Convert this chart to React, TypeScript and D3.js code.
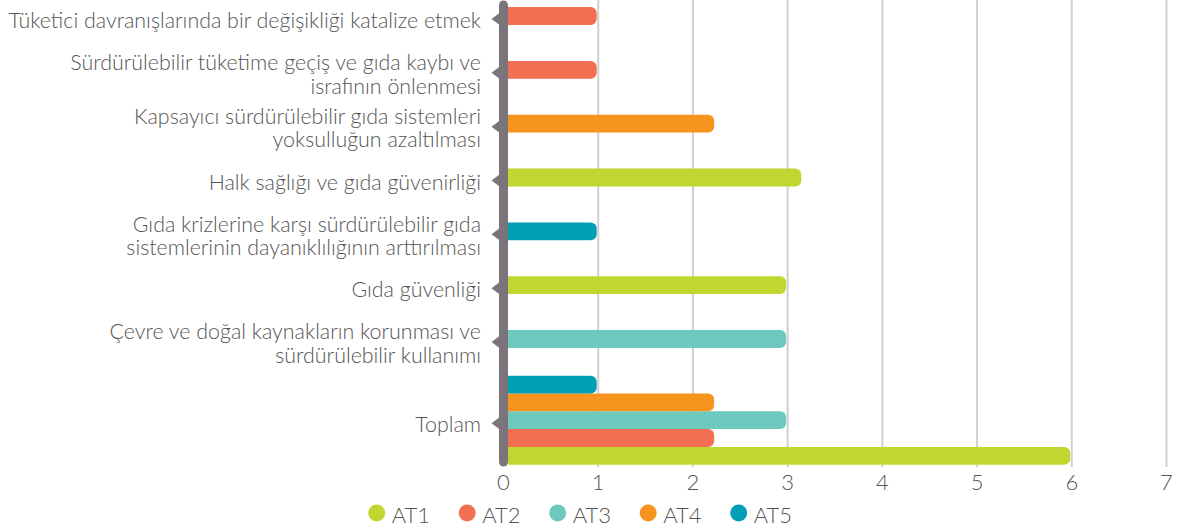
import React from "react";
import * as d3 from "d3";

const categories = [
  "Tüketici davranışlarında bir değişikliği katalize etmek",
  "Sürdürülebilir tüketime geçiş ve gıda kaybı ve|israfının önlenmesi",
  "Kapsayıcı sürdürülebilir gıda sistemleri|yoksulluğun azaltılması",
  "Halk sağlığı ve gıda güvenirliği",
  "Gıda krizlerine karşı sürdürülebilir gıda|sistemlerinin dayanıklılığının arttırılması",
  "Gıda güvenliği",
  "Çevre ve doğal kaynakların korunması ve|sürdürülebilir kullanımı",
  "Toplam",
];
const seriesNames = ["AT1", "AT2", "AT3", "AT4", "AT5"];
const seriesColors = ["#c0d631", "#f36f53", "#6dc9be", "#f7941e", "#009fb5"];
const AT1 = [0, 0, 0, 3.16, 0, 3, 0, 6];
const AT2 = [1, 1, 0, 0, 0, 0, 0, 2.24];
const AT3 = [0, 0, 0, 0, 0, 0, 3, 3];
const AT4 = [0, 0, 2.24, 0, 0, 0, 0, 2.24];
const AT5 = [0, 0, 0, 0, 1, 0, 0, 1];
const seriesValues = [AT1, AT2, AT3, AT4, AT5];
const xTicks = [0, 1, 2, 3, 4, 5, 6, 7];

const W = 1178;
const H = 532;
const FONT = "Lato, 'Open Sans', sans-serif";
const TEXT = "#555555";
const AXIS = "#7b747b";

function barPath(x0: number, x1: number, y: number, h: number, r: number) {
  const rr = Math.min(r, (x1 - x0) / 2, h / 2);
  return `M${x0},${y}H${x1 - rr}A${rr},${rr} 0 0 1 ${x1},${y + rr}V${y + h - rr}A${rr},${rr} 0 0 1 ${x1 - rr},${y + h}H${x0}Z`;
}

export default function App() {
  React.useEffect(() => {
    document.body.style.margin = "0";
  }, []);

  const x = d3.scaleLinear().domain([0, 7]).range([503.5, 1166.5]);
  const single = categories.slice(0, 7);
  const yMain = d3.scaleBand<string>().domain(single).range([-10.9, 365.9]).padding(0);
  const yTot = d3
    .scaleBand<string>()
    .domain(seriesNames.slice().reverse())
    .range([375.7, 464.7])
    .padding(0);
  const barH = yTot.bandwidth();

  const bars: { key: string; x0: number; x1: number; y: number; color: string }[] = [];
  const labelCenters: number[] = [];
  categories.forEach((c, ci) => {
    if (ci < 7) {
      const cy = (yMain(c) as number) + yMain.bandwidth() / 2;
      labelCenters.push(cy);
      seriesValues.forEach((vals, si) => {
        if (vals[ci] > 0) {
          bars.push({
            key: `${ci}-${si}`,
            x0: x(0) + 4.5,
            x1: x(vals[ci]) - 1.5,
            y: cy - barH / 2,
            color: seriesColors[si],
          });
        }
      });
    } else {
      const [a, b] = yTot.range();
      labelCenters.push((a + b) / 2);
      seriesValues.forEach((vals, si) => {
        if (vals[ci] > 0) {
          bars.push({
            key: `${ci}-${si}`,
            x0: x(0) + 4.5,
            x1: x(vals[ci]) - 1.5,
            y: yTot(seriesNames[si]) as number,
            color: seriesColors[si],
          });
        }
      });
    }
  });

  const lineH = 23.5;

  return (
    <svg width={W} height={H} style={{ display: "block" }} fontFamily={FONT}>
      {xTicks.slice(1).map((t) => (
        <line key={t} x1={x(t)} x2={x(t)} y1={0} y2={467} stroke="#cfcfcf" strokeWidth={2} />
      ))}
      {bars.map((b) => (
        <path key={b.key} d={barPath(b.x0, b.x1, b.y, barH, 6)} fill={b.color} />
      ))}
      <line x1={x(0)} x2={x(0)} y1={5} y2={462} stroke={AXIS} strokeWidth={9} strokeLinecap="round" />
      {categories.map((c, i) => {
        const cy = labelCenters[i];
        const lines = c.split("|");
        const ty = cy + 4 - ((lines.length - 1) * lineH) / 2;
        return (
          <g key={c}>
            <path d={`M${x(0) - 12},${cy + 3}L${x(0) - 4},${cy - 3}L${x(0) - 4},${cy + 9}Z`} fill={AXIS} />
            <text
              x={481}
              y={ty}
              textAnchor="end"
              fontSize={21.4}
              fontWeight={300}
              fill={TEXT}
              dominantBaseline="central"
            >
              {lines.map((l, j) => (
                <tspan key={j} x={481} y={ty + j * lineH}>
                  {l}
                </tspan>
              ))}
            </text>
          </g>
        );
      })}
      {xTicks.map((t) => (
        <text
          key={t}
          x={x(t)}
          y={481}
          textAnchor="middle"
          dominantBaseline="central"
          fontSize={22}
          fontWeight={300}
          fill={TEXT}
        >
          {t}
        </text>
      ))}
      {seriesNames.map((s, i) => {
        const lx = 376.7 + i * 90.5;
        return (
          <g key={s}>
            <circle cx={lx} cy={513} r={8.5} fill={seriesColors[i]} />
            <text x={lx + 15} y={514} dominantBaseline="central" fontSize={22} fontWeight={300} fill={TEXT}>
              {s}
            </text>
          </g>
        );
      })}
    </svg>
  );
}
